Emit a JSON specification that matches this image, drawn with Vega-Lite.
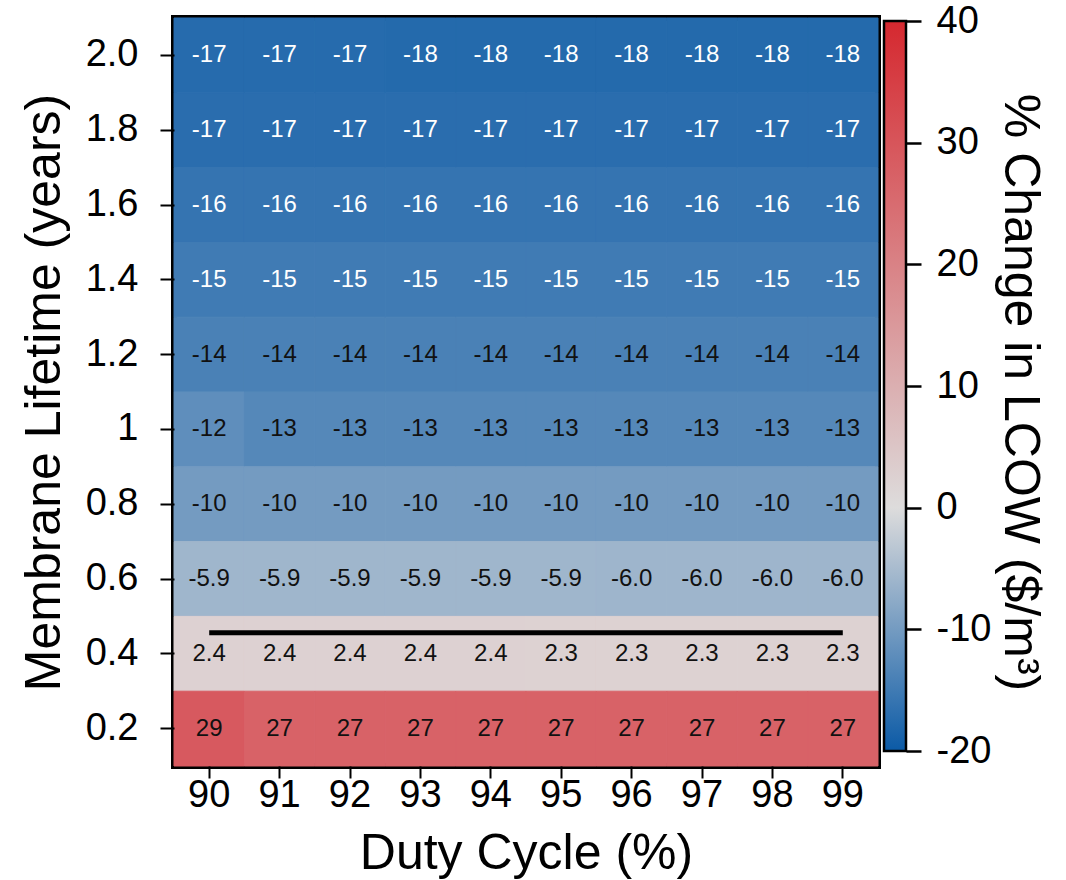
{
  "$schema": "https://vega.github.io/schema/vega-lite/v6.json",
  "padding": {"left": 16, "top": 2, "right": 0, "bottom": 0},
  "spacing": 0,
  "config": {
    "font": "Liberation Sans",
    "axis": {
      "labelColor": "black",
      "titleColor": "black",
      "tickColor": "black",
      "titleFontWeight": "normal",
      "grid": false,
      "domain": false
    }
  },
  "hconcat": [
    {
      "width": 704,
      "height": 748,
      "view": {"stroke": "black", "strokeWidth": 6},
      "layer": [
        {
          "data": {
            "values": [
              {"dc": 90, "lt": "2.0", "v": -17.4, "t": "-17"}, {"dc": 91, "lt": "2.0", "v": -17.4, "t": "-17"}, {"dc": 92, "lt": "2.0", "v": -17.4, "t": "-17"}, {"dc": 93, "lt": "2.0", "v": -17.6, "t": "-18"}, {"dc": 94, "lt": "2.0", "v": -17.6, "t": "-18"}, {"dc": 95, "lt": "2.0", "v": -17.6, "t": "-18"}, {"dc": 96, "lt": "2.0", "v": -17.6, "t": "-18"}, {"dc": 97, "lt": "2.0", "v": -17.6, "t": "-18"}, {"dc": 98, "lt": "2.0", "v": -17.6, "t": "-18"}, {"dc": 99, "lt": "2.0", "v": -17.6, "t": "-18"},
              {"dc": 90, "lt": "1.8", "v": -17, "t": "-17"}, {"dc": 91, "lt": "1.8", "v": -17, "t": "-17"}, {"dc": 92, "lt": "1.8", "v": -17, "t": "-17"}, {"dc": 93, "lt": "1.8", "v": -17, "t": "-17"}, {"dc": 94, "lt": "1.8", "v": -17, "t": "-17"}, {"dc": 95, "lt": "1.8", "v": -17, "t": "-17"}, {"dc": 96, "lt": "1.8", "v": -17, "t": "-17"}, {"dc": 97, "lt": "1.8", "v": -17, "t": "-17"}, {"dc": 98, "lt": "1.8", "v": -17, "t": "-17"}, {"dc": 99, "lt": "1.8", "v": -17, "t": "-17"},
              {"dc": 90, "lt": "1.6", "v": -16, "t": "-16"}, {"dc": 91, "lt": "1.6", "v": -16, "t": "-16"}, {"dc": 92, "lt": "1.6", "v": -16, "t": "-16"}, {"dc": 93, "lt": "1.6", "v": -16, "t": "-16"}, {"dc": 94, "lt": "1.6", "v": -16, "t": "-16"}, {"dc": 95, "lt": "1.6", "v": -16, "t": "-16"}, {"dc": 96, "lt": "1.6", "v": -16, "t": "-16"}, {"dc": 97, "lt": "1.6", "v": -16, "t": "-16"}, {"dc": 98, "lt": "1.6", "v": -16, "t": "-16"}, {"dc": 99, "lt": "1.6", "v": -16, "t": "-16"},
              {"dc": 90, "lt": "1.4", "v": -15, "t": "-15"}, {"dc": 91, "lt": "1.4", "v": -15, "t": "-15"}, {"dc": 92, "lt": "1.4", "v": -15, "t": "-15"}, {"dc": 93, "lt": "1.4", "v": -15, "t": "-15"}, {"dc": 94, "lt": "1.4", "v": -15, "t": "-15"}, {"dc": 95, "lt": "1.4", "v": -15, "t": "-15"}, {"dc": 96, "lt": "1.4", "v": -15, "t": "-15"}, {"dc": 97, "lt": "1.4", "v": -15, "t": "-15"}, {"dc": 98, "lt": "1.4", "v": -15, "t": "-15"}, {"dc": 99, "lt": "1.4", "v": -15, "t": "-15"},
              {"dc": 90, "lt": "1.2", "v": -14, "t": "-14"}, {"dc": 91, "lt": "1.2", "v": -14, "t": "-14"}, {"dc": 92, "lt": "1.2", "v": -14, "t": "-14"}, {"dc": 93, "lt": "1.2", "v": -14, "t": "-14"}, {"dc": 94, "lt": "1.2", "v": -14, "t": "-14"}, {"dc": 95, "lt": "1.2", "v": -14, "t": "-14"}, {"dc": 96, "lt": "1.2", "v": -14, "t": "-14"}, {"dc": 97, "lt": "1.2", "v": -14, "t": "-14"}, {"dc": 98, "lt": "1.2", "v": -14, "t": "-14"}, {"dc": 99, "lt": "1.2", "v": -14, "t": "-14"},
              {"dc": 90, "lt": "1", "v": -12, "t": "-12"}, {"dc": 91, "lt": "1", "v": -13, "t": "-13"}, {"dc": 92, "lt": "1", "v": -13, "t": "-13"}, {"dc": 93, "lt": "1", "v": -13, "t": "-13"}, {"dc": 94, "lt": "1", "v": -13, "t": "-13"}, {"dc": 95, "lt": "1", "v": -13, "t": "-13"}, {"dc": 96, "lt": "1", "v": -13, "t": "-13"}, {"dc": 97, "lt": "1", "v": -13, "t": "-13"}, {"dc": 98, "lt": "1", "v": -13, "t": "-13"}, {"dc": 99, "lt": "1", "v": -13, "t": "-13"},
              {"dc": 90, "lt": "0.8", "v": -10, "t": "-10"}, {"dc": 91, "lt": "0.8", "v": -10, "t": "-10"}, {"dc": 92, "lt": "0.8", "v": -10, "t": "-10"}, {"dc": 93, "lt": "0.8", "v": -10, "t": "-10"}, {"dc": 94, "lt": "0.8", "v": -10, "t": "-10"}, {"dc": 95, "lt": "0.8", "v": -10, "t": "-10"}, {"dc": 96, "lt": "0.8", "v": -10, "t": "-10"}, {"dc": 97, "lt": "0.8", "v": -10, "t": "-10"}, {"dc": 98, "lt": "0.8", "v": -10, "t": "-10"}, {"dc": 99, "lt": "0.8", "v": -10, "t": "-10"},
              {"dc": 90, "lt": "0.6", "v": -5.9, "t": "-5.9"}, {"dc": 91, "lt": "0.6", "v": -5.9, "t": "-5.9"}, {"dc": 92, "lt": "0.6", "v": -5.9, "t": "-5.9"}, {"dc": 93, "lt": "0.6", "v": -5.9, "t": "-5.9"}, {"dc": 94, "lt": "0.6", "v": -5.9, "t": "-5.9"}, {"dc": 95, "lt": "0.6", "v": -5.9, "t": "-5.9"}, {"dc": 96, "lt": "0.6", "v": -6.0, "t": "-6.0"}, {"dc": 97, "lt": "0.6", "v": -6.0, "t": "-6.0"}, {"dc": 98, "lt": "0.6", "v": -6.0, "t": "-6.0"}, {"dc": 99, "lt": "0.6", "v": -6.0, "t": "-6.0"},
              {"dc": 90, "lt": "0.4", "v": 2.4, "t": "2.4"}, {"dc": 91, "lt": "0.4", "v": 2.4, "t": "2.4"}, {"dc": 92, "lt": "0.4", "v": 2.4, "t": "2.4"}, {"dc": 93, "lt": "0.4", "v": 2.4, "t": "2.4"}, {"dc": 94, "lt": "0.4", "v": 2.4, "t": "2.4"}, {"dc": 95, "lt": "0.4", "v": 2.3, "t": "2.3"}, {"dc": 96, "lt": "0.4", "v": 2.3, "t": "2.3"}, {"dc": 97, "lt": "0.4", "v": 2.3, "t": "2.3"}, {"dc": 98, "lt": "0.4", "v": 2.3, "t": "2.3"}, {"dc": 99, "lt": "0.4", "v": 2.3, "t": "2.3"},
              {"dc": 90, "lt": "0.2", "v": 29, "t": "29"}, {"dc": 91, "lt": "0.2", "v": 27, "t": "27"}, {"dc": 92, "lt": "0.2", "v": 27, "t": "27"}, {"dc": 93, "lt": "0.2", "v": 27, "t": "27"}, {"dc": 94, "lt": "0.2", "v": 27, "t": "27"}, {"dc": 95, "lt": "0.2", "v": 27, "t": "27"}, {"dc": 96, "lt": "0.2", "v": 27, "t": "27"}, {"dc": 97, "lt": "0.2", "v": 27, "t": "27"}, {"dc": 98, "lt": "0.2", "v": 27, "t": "27"}, {"dc": 99, "lt": "0.2", "v": 27, "t": "27"}
            ]
          },
          "encoding": {
            "x": {
              "field": "dc", "type": "ordinal",
              "scale": {"paddingInner": 0, "paddingOuter": 0},
              "axis": {"title": "Duty Cycle (%)", "labelAngle": 0, "labelFontSize": 38, "titleFontSize": 50, "tickSize": 12, "tickWidth": 2, "labelPadding": -2, "titlePadding": 14}
            },
            "y": {
              "field": "lt", "type": "ordinal",
              "sort": ["2.0", "1.8", "1.6", "1.4", "1.2", "1", "0.8", "0.6", "0.4", "0.2"],
              "scale": {"paddingInner": 0, "paddingOuter": 0},
              "axis": {"title": "Membrane Lifetime (years)", "labelFontSize": 38, "titleFontSize": 50, "tickSize": 14, "tickWidth": 2, "labelPadding": 22, "titlePadding": 16}
            }
          },
          "layer": [
            {
              "mark": {"type": "rect", "strokeWidth": 1},
              "encoding": {
                "color": {
                  "field": "v", "type": "quantitative",
                  "scale": {"domain": [-20, 0, 40], "range": ["#0b5aa6", "#dddcdc", "#d5282f"], "interpolate": "rgb"},
                  "legend": null
                },
                "stroke": {
                  "field": "v", "type": "quantitative",
                  "scale": {"domain": [-20, 0, 40], "range": ["#0b5aa6", "#dddcdc", "#d5282f"], "interpolate": "rgb"},
                  "legend": null
                }
              }
            },
            {
              "mark": {"type": "text", "fontSize": 24, "font": "Liberation Sans"},
              "encoding": {
                "text": {"field": "t", "type": "nominal"},
                "color": {"condition": {"test": "datum.v < -14.5", "value": "white"}, "value": "#111111"}
              }
            }
          ]
        },
        {
          "data": {"values": [{"x1": 90, "x2": 99, "y": 0.456}]},
          "mark": {"type": "rule", "color": "black", "strokeWidth": 5},
          "encoding": {
            "x": {"field": "x1", "type": "quantitative", "scale": {"domain": [89.5, 99.5], "nice": false, "zero": false}, "axis": null},
            "x2": {"field": "x2"},
            "y": {"field": "y", "type": "quantitative", "scale": {"domain": [0.1, 2.1], "nice": false, "zero": false}, "axis": null}
          }
        }
      ],
      "resolve": {"scale": {"x": "independent", "y": "independent"}}
    },
    {
      "width": 22,
      "height": 748,
      "view": {"stroke": null},
      "data": {"values": [{"lo": -20, "hi": 40}]},
      "mark": {
        "type": "rect",
        "stroke": "black",
        "strokeWidth": 2.5,
        "fill": {
          "gradient": "linear", "x1": 0, "y1": 1, "x2": 0, "y2": 0,
          "stops": [
            {"offset": 0, "color": "#0b5aa6"},
            {"offset": 0.3333, "color": "#dddcdc"},
            {"offset": 1, "color": "#d5282f"}
          ]
        }
      },
      "encoding": {
        "y": {
          "field": "lo", "type": "quantitative",
          "scale": {"domain": [-21.23, 40.25], "nice": false, "zero": false},
          "axis": {
            "orient": "right",
            "values": [-20, -10, 0, 10, 20, 30, 40],
            "labelExpr": "'' + datum.value",
            "title": "% Change in LCOW ($/m³)",
            "labelFontSize": 38, "titleFontSize": 50,
            "tickSize": 15, "tickWidth": 2.5, "labelPadding": 15, "titlePadding": 4
          }
        },
        "y2": {"field": "hi"}
      }
    }
  ]
}
